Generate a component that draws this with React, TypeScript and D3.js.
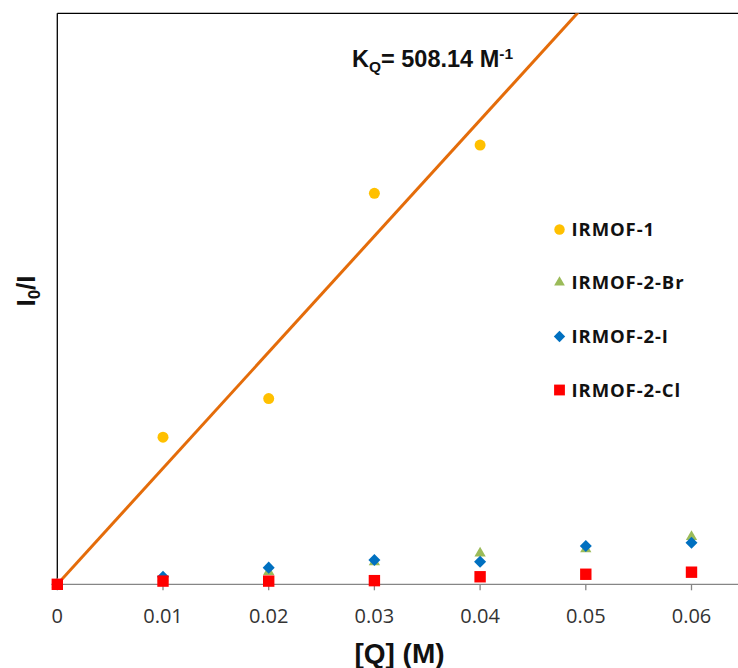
import React from 'react';
import * as d3 from 'd3';

// concentrations of quencher (M)
const qValues = [0, 0.01, 0.02, 0.03, 0.04, 0.05, 0.06];
const xTicks = [0, 0.01, 0.02, 0.03, 0.04, 0.05, 0.06];

const irmof1 = [1, 7.44, 9.13, 18.12, 20.23];
const irmof2Br = [1, 1.28, 1.55, 1.98, 2.36, 2.55, 3.08];
const irmof2I = [1, 1.33, 1.73, 2.06, 1.99, 2.68, 2.82];
const irmof2Cl = [1, 1.14, 1.14, 1.16, 1.33, 1.44, 1.53];

const kq = 508.14; // slope of the fit line
const fitQ = [0, 0.07];

const seriesNames = ['IRMOF-1', 'IRMOF-2-Br', 'IRMOF-2-I', 'IRMOF-2-Cl'];

const W = 738;
const H = 668;
const left = 57.3;
const top = 13.3;
const bottom = 584.3;

export default function App() {
  const x = d3.scaleLinear().domain([0, 0.07]).range([left, left + 7 * 105.7]);
  const y = d3.scaleLinear().domain([1, 26]).range([bottom, top]);

  const styles = [
    { color: '#FFC000', sym: d3.symbolCircle, size: 95, data: irmof1 },
    { color: '#9BBB59', sym: d3.symbolTriangle, size: 55, data: irmof2Br },
    { color: '#0070C0', sym: d3.symbolDiamond2, size: 92, data: irmof2I },
    { color: '#FF0000', sym: d3.symbolSquare, size: 130, data: irmof2Cl },
  ];

  const fitLine = d3
    .line<number>()
    .x((q) => x(q))
    .y((q) => y(1 + kq * q));

  const legendY = [229.5, 282.5, 336.5, 390];

  return (
    <svg
      width={W}
      height={H}
      style={{ position: 'absolute', left: 0, top: 0, background: '#fff' }}
    >
      <defs>
        <clipPath id="plot">
          <rect x={left} y={top} width={W - left} height={bottom - top} />
        </clipPath>
      </defs>
      {/* frame */}
      <line x1={left} x2={W} y1={top} y2={top} stroke="#000" strokeWidth={1.3} />
      <line x1={left} x2={left} y1={top} y2={bottom} stroke="#000" strokeWidth={1.3} />
      <line x1={left} x2={W} y1={bottom} y2={bottom} stroke="#868686" strokeWidth={1.3} />
      {xTicks.map((t) => (
        <g key={t}>
          <line x1={x(t)} x2={x(t)} y1={bottom} y2={bottom + 6} stroke="#868686" strokeWidth={1.3} />
          <text
            x={x(t)}
            y={623}
            textAnchor="middle"
            fontFamily="'Open Sans', sans-serif"
            fontSize={20}
            fill="#333"
          >
            {t === 0 ? '0' : t.toFixed(2)}
          </text>
        </g>
      ))}
      <path
        d={fitLine(fitQ) || ''}
        stroke="#E46C0A"
        strokeWidth={3}
        fill="none"
        clipPath="url(#plot)"
      />
      {styles.map((s, si) =>
        s.data.map((v, i) => (
          <path
            key={si + '-' + i}
            d={d3.symbol(s.sym, s.size)() || ''}
            transform={`translate(${x(qValues[i])},${y(v)})`}
            fill={s.color}
          />
        ))
      )}
      {/* legend */}
      {styles.map((s, si) => (
        <g key={si} transform={`translate(559.5,${legendY[si]})`}>
          <path d={d3.symbol(s.sym, s.size * 0.9)() || ''} fill={s.color} />
          <text
            x={12}
            y={6.5}
            fontFamily="'Open Sans', sans-serif"
            fontWeight="bold"
            fontSize={18.5}
            letterSpacing={0.9}
            fill="#111"
          >
            {seriesNames[si]}
          </text>
        </g>
      ))}
      <text
        x={352}
        y={66.5}
        fontFamily="'Liberation Sans', Arial, sans-serif"
        fontWeight="bold"
        fontSize={23.5}
        fill="#111"
      >
        K<tspan fontSize={15.5} dy={5}>Q</tspan>
        <tspan dy={-5}>= 508.14 M</tspan>
        <tspan fontSize={15.5} dy={-8}>-1</tspan>
      </text>
      <text
        x={399.5}
        y={663}
        textAnchor="middle"
        fontFamily="'Liberation Sans', Arial, sans-serif"
        fontWeight="bold"
        fontSize={28}
        fill="#111"
      >
        [Q] (M)
      </text>
      <text
        transform="translate(35,291) rotate(-90)"
        textAnchor="middle"
        fontFamily="'Liberation Sans', Arial, sans-serif"
        fontWeight="bold"
        fontSize={26}
        fill="#111"
      >
        I<tspan fontSize={17} dy={5}>0</tspan>
        <tspan dy={-5}>/I</tspan>
      </text>
    </svg>
  );
}
